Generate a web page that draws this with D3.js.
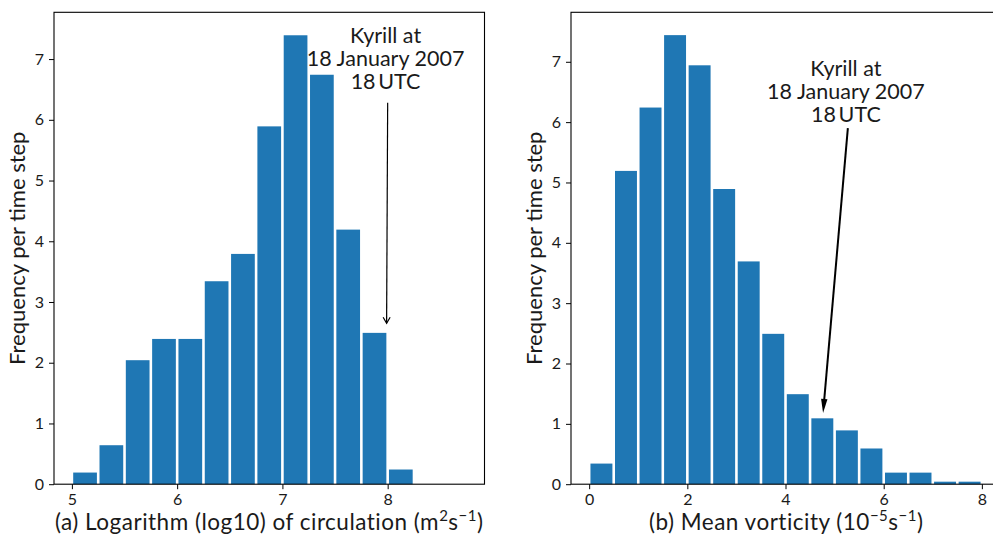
<!DOCTYPE html>
<html>
<head>
<meta charset="utf-8">
<script src="https://cdn.jsdelivr.net/npm/d3@7"></script>
<style>
  html, body { margin: 0; padding: 0; background: #fff; }
  svg { display: block; }
  text { font-family: Lato, "DejaVu Sans", sans-serif; fill: #1a1a1a; }
</style>
</head>
<body>
<svg id="chart" width="993" height="536"></svg>
<script>
// ---- Data ----
// Panel (a): log10 of circulation
const binStartsA = [5.0, 5.25, 5.5, 5.75, 6.0, 6.25, 6.5, 6.75, 7.0, 7.25, 7.5, 7.75, 8.0];
const binWidthA = 0.25;
const freqA = [0.2, 0.65, 2.05, 2.4, 2.4, 3.35, 3.8, 5.9, 7.4, 6.75, 4.2, 2.5, 0.25];
const xTicksA = [5, 6, 7, 8];
const yTicksA = [0, 1, 2, 3, 4, 5, 6, 7];
const xDomainA = [4.83, 8.92];
const yDomainA = [0, 7.77];

// Panel (b): mean vorticity
const binStartsB = [0, 0.5, 1.0, 1.5, 2.0, 2.5, 3.0, 3.5, 4.0, 4.5, 5.0, 5.5, 6.0, 6.5, 7.0, 7.5];
const binWidthB = 0.5;
const freqB = [0.35, 5.2, 6.25, 7.45, 6.95, 4.9, 3.7, 2.5, 1.5, 1.1, 0.9, 0.6, 0.2, 0.2, 0.05, 0.05];
const xTicksB = [0, 2, 4, 6, 8];
const yTicksB = [0, 1, 2, 3, 4, 5, 6, 7];
const xDomainB = [-0.37, 8.4];
const yDomainB = [0, 7.82];

// Annotation text and arrows (data coordinates)
const annoLines = ["Kyrill at", "18 January 2007", "18\u2009UTC"];
const annoTextA = [7.98, 7.27];    // text centre x, first baseline y
const annoArrowA = [[8.0, 6.28], [7.99, 2.65]]; // tail, tip
const annoTextB = [5.23, 6.76];
const annoArrowB = [[5.27, 5.9], [4.765, 1.18]];

const yLabel = "Frequency per time step";

// ---- Drawing ----
const svg = d3.select("#chart");
const barColor = "#1f77b4";
const plotTop = 12.3, plotBottom = 484.2;

function panel(opts) {
  const x = d3.scaleLinear().domain(opts.xDomain).range([opts.left, opts.right]);
  const y = d3.scaleLinear().domain(opts.yDomain).range([plotBottom, plotTop]);
  const g = svg.append("g");

  // bars
  g.selectAll("rect.bar").data(opts.starts).enter().append("rect")
    .attr("class", "bar")
    .attr("x", (d) => x(d) + 1.3)
    .attr("width", (d) => x(d + opts.width) - x(d) - 2.6)
    .attr("y", (d, i) => y(opts.freq[i]) + 0.5)
    .attr("height", (d, i) => Math.max(0, y(0) - y(opts.freq[i]) - 0.5))
    .attr("fill", barColor);

  // axes
  const xAxis = d3.axisBottom(x).tickValues(opts.xTicks).tickSize(5).tickPadding(4).tickFormat(d3.format("d"));
  const yAxis = d3.axisLeft(y).tickValues(opts.yTicks).tickSize(5).tickPadding(5).tickFormat(d3.format("d"));
  const gx = g.append("g").attr("transform", `translate(0,${plotBottom})`).call(xAxis);
  const gy = g.append("g").attr("transform", `translate(${opts.left},0)`).call(yAxis);
  [gx, gy].forEach((ax) => {
    ax.select(".domain").remove();
    ax.selectAll(".tick line").attr("stroke", "#000").attr("stroke-width", 1);
    ax.selectAll(".tick text").attr("font-size", 16).attr("fill", "#2a2a2a")
      .style("font-family", "Lato, sans-serif");
  });
  gx.selectAll(".tick text").attr("dy", "0.71em");

  // frame (spines)
  g.append("rect")
    .attr("x", opts.left).attr("y", plotTop)
    .attr("width", opts.right - opts.left).attr("height", plotBottom - plotTop)
    .attr("fill", "none").attr("stroke", "#000").attr("stroke-width", 1.1);

  // y label
  g.append("text")
    .attr("transform", `translate(${opts.left - 29},${(plotTop + plotBottom) / 2}) rotate(-90)`)
    .attr("text-anchor", "middle")
    .attr("font-size", 22)
    .text(yLabel);

  // x label with superscripts
  const xl = g.append("text")
    .attr("x", (opts.left + opts.right) / 2)
    .attr("y", 530)
    .attr("text-anchor", "middle")
    .attr("font-size", 22.5)
    .attr("letter-spacing", 0.5);
  let raised = false;
  opts.xLabel.forEach((part) => {
    const ts = xl.append("tspan").text(part.t);
    if (part.sup) {
      ts.attr("dy", -9).attr("font-size", 15);
      raised = true;
    } else if (raised) {
      ts.attr("dy", 9);
      raised = false;
    }
  });

  // annotation text
  const at = g.append("text")
    .attr("text-anchor", "middle")
    .attr("font-size", 21.5)
    .attr("fill", "#111");
  annoLines.forEach((ln, i) => {
    at.append("tspan")
      .attr("x", x(opts.annoText[0]))
      .attr("y", y(opts.annoText[1]) + i * 23)
      .text(ln);
  });

  // arrow
  const [tail, tip] = opts.arrow;
  const x1 = x(tail[0]), y1 = y(tail[1]), x2 = x(tip[0]), y2 = y(tip[1]);
  const ang = Math.atan2(y2 - y1, x2 - x1);
  const ux = Math.cos(ang), uy = Math.sin(ang);
  const px = -uy, py = ux;
  if (opts.arrowStyle === "open") {
    g.append("line").attr("x1", x1).attr("y1", y1).attr("x2", x2).attr("y2", y2)
      .attr("stroke", "#000").attr("stroke-width", 1.2);
    const hl = 6, hw = 3.5;
    g.append("path")
      .attr("d", `M${x2 - ux * hl + px * hw},${y2 - uy * hl + py * hw} L${x2},${y2} L${x2 - ux * hl - px * hw},${y2 - uy * hl - py * hw}`)
      .attr("fill", "none").attr("stroke", "#000").attr("stroke-width", 1.2);
  } else {
    const hl = 14, hw = 3.2;
    g.append("line").attr("x1", x1).attr("y1", y1).attr("x2", x2 - ux * hl * 0.8).attr("y2", y2 - uy * hl * 0.8)
      .attr("stroke", "#000").attr("stroke-width", 2);
    g.append("path")
      .attr("d", `M${x2},${y2} L${x2 - ux * hl + px * hw},${y2 - uy * hl + py * hw} L${x2 - ux * hl - px * hw},${y2 - uy * hl - py * hw} Z`)
      .attr("fill", "#000");
  }
}

panel({
  left: 54, right: 484.5,
  xDomain: xDomainA, yDomain: yDomainA,
  starts: binStartsA, width: binWidthA, freq: freqA,
  xTicks: xTicksA, yTicks: yTicksA,
  xLabel: [{t: "(a) Logarithm (log10) of circulation (m"}, {t: "2", sup: true}, {t: "s"}, {t: "\u22121", sup: true}, {t: ")"}],
  annoText: annoTextA, arrow: annoArrowA, arrowStyle: "open"
});

panel({
  left: 571, right: 1001.5,
  xDomain: xDomainB, yDomain: yDomainB,
  starts: binStartsB, width: binWidthB, freq: freqB,
  xTicks: xTicksB, yTicks: yTicksB,
  xLabel: [{t: "(b) Mean vorticity (10"}, {t: "\u22125", sup: true}, {t: "s"}, {t: "\u22121", sup: true}, {t: ")"}],
  annoText: annoTextB, arrow: annoArrowB, arrowStyle: "filled"
});
</script>
</body>
</html>
